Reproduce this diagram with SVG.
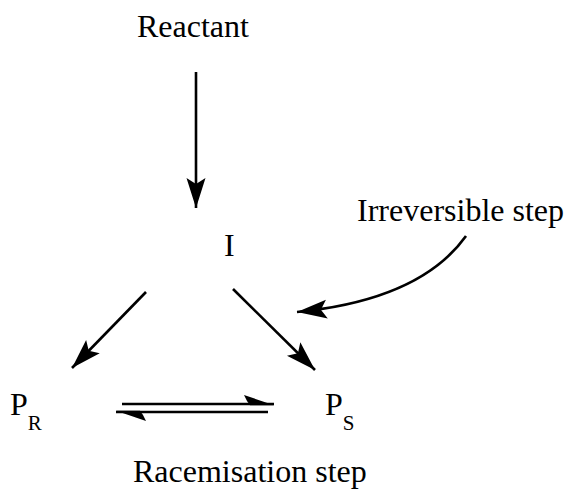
<svg xmlns="http://www.w3.org/2000/svg" width="569" height="493" viewBox="0 0 569 493">
<style>
text{font-family:"Liberation Serif","Times New Roman",serif;fill:#000;font-size:32px}
.sub{font-size:21px}
.c{fill:none;stroke:#000;stroke-width:2.6}
</style>
<defs>
<marker id="ah" markerUnits="userSpaceOnUse" markerWidth="36" markerHeight="24" viewBox="0 -12 36 24" refX="30" refY="0" orient="auto">
<path d="M0,-9.5 L30,0 L0,9.5 L6,0 z" fill="#000"/>
</marker>
<marker id="hp" markerUnits="userSpaceOnUse" markerWidth="36" markerHeight="24" viewBox="0 -12 36 24" refX="31" refY="0" orient="auto">
<path d="M31,1.2 L1,-9 L4,-3 L7,1.2 z" fill="#000"/>
</marker>
</defs>
<rect width="569" height="493" fill="#fff"/>
<g id="reactant"><text x="137" y="37">Reactant</text></g>
<g id="intermediate"><text x="224" y="256">I</text></g>
<g id="irreversible-label"><text x="357" y="221">Irreversible step</text></g>
<g id="pr"><text x="10" y="415">P<tspan class="sub" dy="15">R</tspan></text></g>
<g id="ps"><text x="325" y="415">P<tspan class="sub" dy="15">S</tspan></text></g>
<g id="racemisation-label"><text x="133" y="482">Racemisation step</text></g>
<g id="connectors">
<line class="c" x1="196" y1="72" x2="196" y2="208" marker-end="url(#ah)"/>
<line class="c" x1="146" y1="292" x2="72" y2="368" marker-end="url(#ah)"/>
<line class="c" x1="233" y1="289" x2="315" y2="370" marker-end="url(#ah)"/>
<path class="c" d="M466,236 Q420,300 297,312" marker-end="url(#ah)"/>
<line class="c" x1="122" y1="404" x2="274" y2="404" marker-end="url(#hp)"/>
<line class="c" x1="268" y1="412" x2="116" y2="412" marker-end="url(#hp)"/>
</g>
</svg>
